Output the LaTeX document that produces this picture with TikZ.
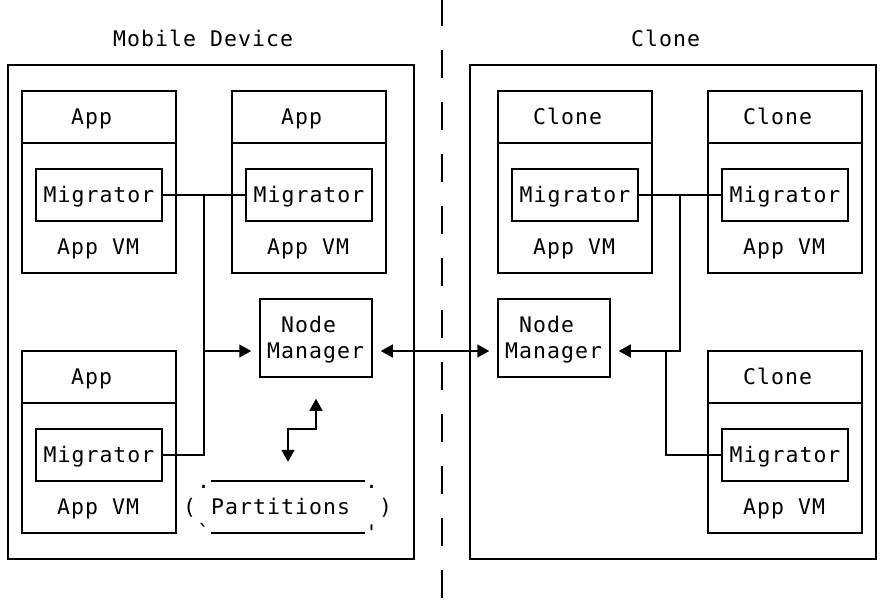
\documentclass[tikz,border=0pt]{standalone}
\usepackage{fontspec}
\newfontfamily\ditaafont[LetterSpace=4.9]{DejaVu Sans Mono}
\usetikzlibrary{arrows.meta}

\begin{document}
\begin{tikzpicture}[x=14pt, y=-26pt,
  font=\ditaafont\fontsize{21.5pt}{26pt}\selectfont,
  txt/.style={anchor=base west, inner sep=0pt, yshift=-7pt},
  box/.style={draw, line width=1.5pt, inner sep=0pt},
  mig/.style={box, minimum width=126pt, minimum height=52pt, text height=16pt, text depth=2pt},
  appbox/.style={box, minimum width=154pt, minimum height=182pt},
  mgrbox/.style={box, minimum width=112pt, minimum height=78pt},
  link/.style={line width=1.5pt},
  arr/.style={link, -{Triangle[length=12pt, width=13pt]}, shorten >=8pt},
  biarr/.style={link, {Triangle[length=12pt, width=13pt]}-{Triangle[length=12pt, width=13pt]}, shorten <=8pt, shorten >=8pt}]

	\fill[white] (-0.5714,-2.5) rectangle (62.5714,20.5769);
	\useasboundingbox (-0.5714,-2.5) rectangle (62.5714,20.5769);

	% separator
	\draw[line width=1.6pt, dash pattern=on 28pt off 24pt] (31,-2.5769) -- (31,20.5769);

	% frames
	\draw[link] (0,0) rectangle (29,19);
	\draw[link] (33,0) rectangle (62,19);
	\node[txt] (TitleL) at (7.5,-1) {Mobile Device};
	\node[txt] (TitleR) at (44.5,-1) {Clone};

	% mobile device
	\node[appbox] (AppA) at (6.5,4.5) {};
	\draw[link] (1,3) -- (12,3);
	\node[txt] at (4.5,2) {App};
	\node[mig] (MigA) at (6.5,5) {Migrator};
	\node[txt] at (3.5,7) {App VM};

	\node[appbox] (AppB) at (21.5,4.5) {};
	\draw[link] (16,3) -- (27,3);
	\node[txt] at (19.5,2) {App};
	\node[mig] (MigB) at (21.5,5) {Migrator};
	\node[txt] at (18.5,7) {App VM};

	\node[appbox] (AppC) at (6.5,14.5) {};
	\draw[link] (1,13) -- (12,13);
	\node[txt] at (4.5,12) {App};
	\node[mig] (MigC) at (6.5,15) {Migrator};
	\node[txt] at (3.5,17) {App VM};

	\node[mgrbox] (NodeL) at (22,10.5) {};
	\node[txt] at (19.5,10) {Node};
	\node[txt] at (18.5,11) {Manager};

	\node[inner sep=0pt, minimum width=154pt, minimum height=52pt] (Part) at (20,17) {};
	\draw[link] (Part.north west) -- (Part.north east);
	\draw[link] (Part.south west) -- (Part.south east);
	\node[txt] at (13.5,16) {.};
	\node[txt] at (25.5,16) {.};
	\node[txt] at (12.5,17) {(};
	\node[txt] at (14.5,17) {Partitions};
	\node[txt] at (26.5,17) {)};
	\node[txt] at (13.5,18) {\textasciigrave};
	\node[txt] at (25.5,18) {\textquotesingle};

	% clone
	\node[appbox] (CloneA) at (40.5,4.5) {};
	\draw[link] (35,3) -- (46,3);
	\node[txt] at (37.5,2) {Clone};
	\node[mig] (MigD) at (40.5,5) {Migrator};
	\node[txt] at (37.5,7) {App VM};

	\node[appbox] (CloneB) at (55.5,4.5) {};
	\draw[link] (50,3) -- (61,3);
	\node[txt] at (52.5,2) {Clone};
	\node[mig] (MigE) at (55.5,5) {Migrator};
	\node[txt] at (52.5,7) {App VM};

	\node[appbox] (CloneC) at (55.5,14.5) {};
	\draw[link] (50,13) -- (61,13);
	\node[txt] at (52.5,12) {Clone};
	\node[mig] (MigF) at (55.5,15) {Migrator};
	\node[txt] at (52.5,17) {App VM};

	\node[mgrbox] (NodeR) at (39,10.5) {};
	\node[txt] at (36.5,10) {Node};
	\node[txt] at (35.5,11) {Manager};

	% connectors
	\draw[link] (MigA.east) -- (MigB.west);
	\draw[link] (14,5) |- (MigC.east);
	\draw[arr] (14,11) -- ([yshift=-13pt]NodeL.west);
	\draw[biarr] ([yshift=-13pt]NodeL.east) -- ([yshift=-13pt]NodeR.west);
	\draw[biarr, shorten <=19pt, shorten >=21pt] (Part.north) |- (22,14) -- (NodeL.south);

	\draw[link] (MigD.east) -- (MigE.west);
	\draw[arr] (48,5) |- ([yshift=-13pt]NodeR.east);
	\draw[link] (47,11) |- (MigF.west);
\end{tikzpicture}
\end{document}
